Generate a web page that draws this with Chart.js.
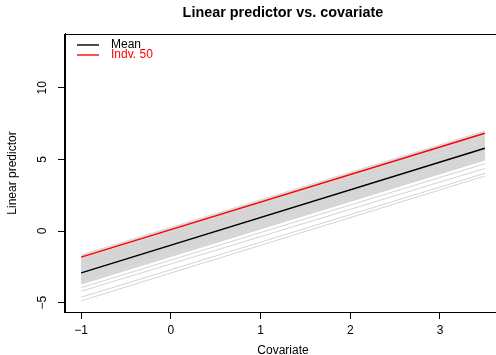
<!DOCTYPE html>
<html lang="en">
  <head>
    <meta charset="UTF-8" />
    <title>Linear predictor vs. covariate</title>
    <script src="https://cdn.jsdelivr.net/npm/chart.js"></script>
    <style>
      html,
      body {
        margin: 0;
        padding: 0;
        overflow: hidden;
        background: #ffffff;
      }

      /* a bit wider than the window: the right side of the box is cut off */
      .chart-container {
        width: 502px;
        height: 355px;
      }
    </style>
  </head>

  <body>
    <div class="chart-container">
      <canvas id="lpChart" width="502" height="355"></canvas>
    </div>

    <script>
      // covariate values where every line starts / ends
      const covariate = [-1, 3.5];

      // linear predictor of each individual at covariate = -1 and 3.5
      const indvStart = [
        -2.47, -3.1, -1.67, -2.83, -3.36, -2.05, -2.64, -3.55, -2.21, -4.2,
        -2.95, -1.95, -3.22, -2.38, -3.7, -2.72, -1.75, -3.02, -2.55, -3.45,
        -2.12, -4.62, -2.88, -3.28, -2.3, -1.88, -3.62, -2.6, -3.15, -2.42,
        -3.95, -2.78, -2.0, -3.4, -2.68, -2.16, -3.06, -4.87, -2.51, -3.32,
        -2.92, -2.26, -3.5, -2.34, -3.66, -2.09, -2.99, -3.19, -2.58, -1.82,
      ];
      const indvEnd = [
        6.15, 5.52, 6.98, 5.84, 5.24, 6.6, 6.02, 5.05, 6.47, 4.37,
        5.7, 6.72, 5.4, 6.28, 4.96, 5.95, 6.9, 5.62, 6.1, 5.15,
        6.55, 4.03, 5.8, 5.35, 6.36, 6.78, 5.0, 6.06, 5.48, 6.22,
        4.7, 5.88, 6.66, 5.2, 5.98, 6.5, 5.58, 3.84, 6.13, 5.3,
        5.74, 6.42, 5.1, 6.32, 4.98, 6.58, 5.66, 5.44, 6.08, 6.82,
      ];

      // mean line at covariate = -1 and 3.5
      const meanLine = [-2.92, 5.77];

      const highlight = 49; // Indv. 50
      const legendLabels = ["Mean", "Indv. 50"];
      const legendColors = ["#000000", "#ff0000"];

      const xTicks = [-1, 0, 1, 2, 3];
      const xTickLabels = ["\u22121", "0", "1", "2", "3"];
      const yTicks = [-5, 0, 5, 10];
      const yTickLabels = ["\u22125", "0", "5", "10"];

      const fontFamily = "'Liberation Sans', Arial, Helvetica, sans-serif";

      function toPoints(values) {
        return covariate.map((x, i) => ({ x: x, y: values[i] }));
      }

      var datasets = [];

      datasets.push({
        label: legendLabels[1],
        data: toPoints([indvStart[highlight], indvEnd[highlight]]),
        borderColor: legendColors[1],
        borderWidth: 1.5,
      });
      datasets.push({
        label: legendLabels[0],
        data: toPoints(meanLine),
        borderColor: legendColors[0],
        borderWidth: 1.5,
      });
      indvStart.forEach((s, i) => {
        if (i === highlight) return;
        datasets.push({
          label: "Indv. " + (i + 1),
          data: toPoints([s, indvEnd[i]]),
          borderColor: "#d3d3d3",
          borderWidth: 1,
        });
      });

      // box round the plot region and the legend in its top-left corner
      const boxAndLegend = {
        id: "boxAndLegend",
        afterDraw(chart) {
          const ctx = chart.ctx;
          const a = chart.chartArea;
          ctx.save();
          ctx.strokeStyle = "#000000";
          ctx.lineWidth = 1;
          ctx.strokeRect(
            Math.round(a.left) - 0.5,
            Math.round(a.top) + 0.5,
            a.right - a.left,
            a.bottom - a.top
          );

          ctx.font = "12px " + fontFamily;
          ctx.textBaseline = "middle";
          ctx.textAlign = "left";
          legendLabels.forEach((label, i) => {
            const y = a.top + 11 + i * 10;
            ctx.strokeStyle = legendColors[i];
            ctx.lineWidth = 1.4;
            ctx.beginPath();
            ctx.moveTo(a.left + 12, y);
            ctx.lineTo(a.left + 34, y);
            ctx.stroke();
            ctx.fillStyle = legendColors[i];
            ctx.fillText(label, a.left + 46, y);
          });
          ctx.restore();
        },
      };

      Chart.defaults.font.family = fontFamily;
      Chart.defaults.color = "#000000";

      new Chart(document.getElementById("lpChart"), {
        type: "scatter",
        data: { datasets: datasets },
        options: {
          responsive: false,
          animation: false,
          devicePixelRatio: 1,
          events: [],
          showLine: true,
          elements: { point: { radius: 0 } },
          layout: { padding: { left: 0, right: 1, top: 0, bottom: 0 } },
          plugins: {
            legend: { display: false },
            tooltip: { enabled: false },
            title: {
              display: true,
              text: "Linear predictor vs. covariate",
              fullSize: false,
              color: "#000000",
              font: { size: 14.4, weight: "bold" },
              padding: { top: 4, bottom: 12.7 },
            },
          },
          scales: {
            x: {
              type: "linear",
              min: -1.18,
              max: 3.68,
              afterBuildTicks: (scale) => {
                scale.ticks = xTicks.map((v) => ({ value: v }));
              },
              afterFit: (scale) => {
                scale.height = 43;
              },
              grid: {
                drawOnChartArea: false,
                tickLength: 7,
                tickColor: "#000000",
              },
              border: { display: true, color: "#000000", width: 1 },
              ticks: {
                font: { size: 12 },
                padding: 4,
                maxRotation: 0,
                callback: (value, i) => xTickLabels[i],
              },
              title: {
                display: true,
                text: "Covariate",
                font: { size: 12 },
                padding: { top: 0, bottom: -3 },
              },
            },
            y: {
              type: "linear",
              min: -5.65,
              max: 13.75,
              afterBuildTicks: (scale) => {
                scale.ticks = yTicks.map((v) => ({ value: v }));
              },
              afterFit: (scale) => {
                scale.width = 65;
              },
              grid: {
                drawOnChartArea: false,
                tickLength: 7,
                tickColor: "#000000",
              },
              border: { display: true, color: "#000000", width: 1 },
              ticks: {
                font: { size: 12 },
                padding: 8,
                minRotation: 90,
                maxRotation: 90,
                crossAlign: "center",
                callback: (value, i) => yTickLabels[i],
              },
              title: {
                display: true,
                text: "Linear predictor",
                font: { size: 12 },
                padding: { top: 5, bottom: 0 },
              },
            },
          },
        },
        plugins: [boxAndLegend],
      });
    </script>
  </body>
</html>
